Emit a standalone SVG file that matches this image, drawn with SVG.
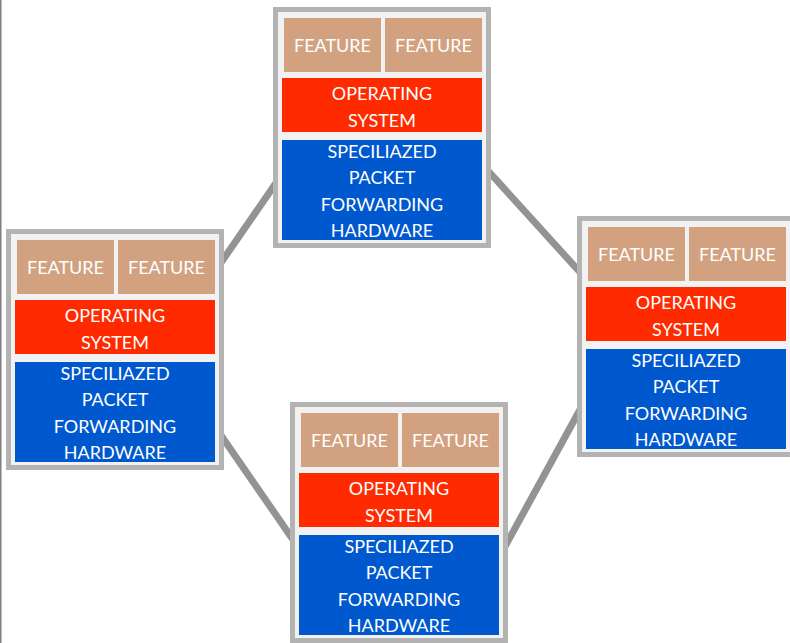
<svg xmlns="http://www.w3.org/2000/svg" width="790" height="643" viewBox="0 0 790 643">
<style>
.frame{fill:#B3B3B3}
.panel{fill:#F2F2F2}
.feat{fill:#D2A17F}
.os{fill:#FF2A00}
.hw{fill:#0058CF}
.t{font-family:Lato,"Open Sans",sans-serif;font-size:18px;fill:#FFFFFF;text-anchor:middle}
.conn{stroke:#939393;stroke-width:7;fill:none}
</style>
<rect x="0" y="0" width="790" height="643" fill="#FFFFFF"/>
<rect x="0" y="0" width="1.5" height="643" fill="#7F7F7F"/>
<g id="connectors">
<line class="conn" x1="218" y1="267" x2="278" y2="180"/>
<line class="conn" x1="485" y1="167.5" x2="583" y2="275.5"/>
<line class="conn" x1="218" y1="431" x2="296" y2="544"/>
<line class="conn" x1="582" y1="406" x2="502" y2="552"/>
</g>
<g id="node-top" transform="translate(273,7)">
<rect class="frame" x="0" y="0" width="218" height="241"/>
<rect class="panel" x="5" y="5" width="208" height="231"/>
<rect class="feat" x="11" y="11" width="97" height="54"/>
<rect class="feat" x="112" y="11" width="97" height="54"/>
<rect class="os" x="9" y="71" width="200" height="54"/>
<rect class="hw" x="9" y="133" width="200" height="100"/>
<text class="t" x="59.5" y="45">FEATURE</text>
<text class="t" x="160.5" y="45">FEATURE</text>
<text class="t" x="109" y="93">OPERATING</text>
<text class="t" x="109" y="120">SYSTEM</text>
<text class="t" x="109" y="151">SPECILIAZED</text>
<text class="t" x="109" y="177">PACKET</text>
<text class="t" x="109" y="204">FORWARDING</text>
<text class="t" x="109" y="230">HARDWARE</text>
</g>
<g id="node-left" transform="translate(6,229)">
<rect class="frame" x="0" y="0" width="218" height="241"/>
<rect class="panel" x="5" y="5" width="208" height="231"/>
<rect class="feat" x="11" y="11" width="97" height="54"/>
<rect class="feat" x="112" y="11" width="97" height="54"/>
<rect class="os" x="9" y="71" width="200" height="54"/>
<rect class="hw" x="9" y="133" width="200" height="100"/>
<text class="t" x="59.5" y="45">FEATURE</text>
<text class="t" x="160.5" y="45">FEATURE</text>
<text class="t" x="109" y="93">OPERATING</text>
<text class="t" x="109" y="120">SYSTEM</text>
<text class="t" x="109" y="151">SPECILIAZED</text>
<text class="t" x="109" y="177">PACKET</text>
<text class="t" x="109" y="204">FORWARDING</text>
<text class="t" x="109" y="230">HARDWARE</text>
</g>
<g id="node-right" transform="translate(577,216)">
<rect class="frame" x="0" y="0" width="218" height="241"/>
<rect class="panel" x="5" y="5" width="208" height="231"/>
<rect class="feat" x="11" y="11" width="97" height="54"/>
<rect class="feat" x="112" y="11" width="97" height="54"/>
<rect class="os" x="9" y="71" width="200" height="54"/>
<rect class="hw" x="9" y="133" width="200" height="100"/>
<text class="t" x="59.5" y="45">FEATURE</text>
<text class="t" x="160.5" y="45">FEATURE</text>
<text class="t" x="109" y="93">OPERATING</text>
<text class="t" x="109" y="120">SYSTEM</text>
<text class="t" x="109" y="151">SPECILIAZED</text>
<text class="t" x="109" y="177">PACKET</text>
<text class="t" x="109" y="204">FORWARDING</text>
<text class="t" x="109" y="230">HARDWARE</text>
</g>
<g id="node-bottom" transform="translate(290,402)">
<rect class="frame" x="0" y="0" width="218" height="241"/>
<rect class="panel" x="5" y="5" width="208" height="231"/>
<rect class="feat" x="11" y="11" width="97" height="54"/>
<rect class="feat" x="112" y="11" width="97" height="54"/>
<rect class="os" x="9" y="71" width="200" height="54"/>
<rect class="hw" x="9" y="133" width="200" height="100"/>
<text class="t" x="59.5" y="45">FEATURE</text>
<text class="t" x="160.5" y="45">FEATURE</text>
<text class="t" x="109" y="93">OPERATING</text>
<text class="t" x="109" y="120">SYSTEM</text>
<text class="t" x="109" y="151">SPECILIAZED</text>
<text class="t" x="109" y="177">PACKET</text>
<text class="t" x="109" y="204">FORWARDING</text>
<text class="t" x="109" y="230">HARDWARE</text>
</g>
</svg>
